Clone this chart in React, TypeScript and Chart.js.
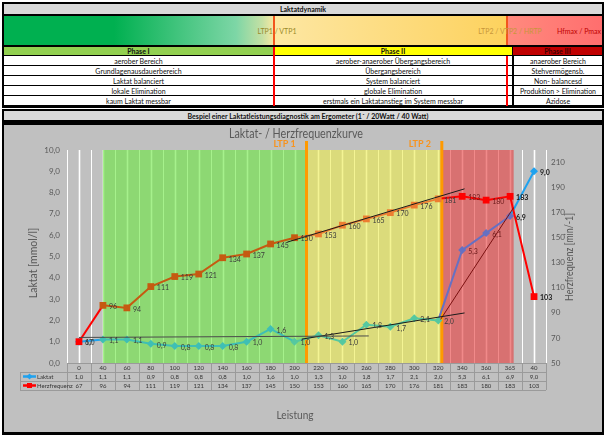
import React, { useEffect, useRef } from "react";
import { Chart, registerables } from "chart.js";

Chart.register(...registerables);

// ---------- data ----------
const categories = ["0", "40", "60", "80", "100", "120", "140", "160", "180", "200", "220", "240", "260", "280", "300", "320", "340", "360", "365", "40"];
const laktat = [1.0, 1.1, 1.1, 0.9, 0.8, 0.8, 0.8, 1.0, 1.6, 1.0, 1.3, 1.0, 1.8, 1.7, 2.1, 2.0, 5.3, 6.1, 6.9, 9.0];
const herzfrequenz = [67, 96, 94, 111, 119, 121, 134, 137, 145, 150, 153, 160, 165, 170, 176, 181, 183, 180, 183, 103];
const laktatTicks = [0, 1, 2, 3, 4, 5, 6, 7, 8, 9, 10];
const hfTicks = [50, 70, 90, 110, 130, 150, 170, 190, 210];

// zones (in category-index units)
const zoneStart = [1, 9.5, 15.15];
const zoneEnd = [9.5, 15.15, 18.15];
const ltpPos = [9.5, 15.15];
const ltpLabels = ["LTP 1", "LTP 2"];

// trend lines (category-index, value)
const trendL1X = [0, 12.1];
const trendL1Y = [1.2, 1.27];
const trendL2X = [9.3, 16.1];
const trendL2Y = [1.12, 2.35];
const trendL3X = [15.1, 18.15];
const trendL3Y = [2.05, 7.3];
const trendHFX = [8.7, 16.1];
const trendHFY = [146.5, 189];

// header texts
const phaseNames = ["Phase I", "Phase II", "Phase III"];
const phase1Rows = ["aerober Bereich", "Grundlagenausdauerbereich", "Laktat balanciert", "lokale Elimination", "kaum Laktat messbar"];
const phase2Rows = ["aerober-anaerober Übergangsbereich", "Übergangsbereich", "System balanciert", "globale Elimination", "erstmals ein Laktatanstieg im System messbar"];
const phase3Rows = ["anaerober Bereich", "Stehvermögensb.", "Non- balancesd", "Produktion > Elimination", "Azidose"];

// ---------- styles ----------
const FONT = 'Lato, "Open Sans", "Noto Sans", sans-serif';
const BLUE = "#1fa2ef";
const TEAL = "#3fbfb4";
const TEAL2 = "#55c8a0";
const SLATE = "#6670c2";
const RED = "#ff0000";
const BROWN = "#c55a11";
const ORANGE = "#ed7d31";

const laktatSeg = (i: number) => (i === 0 || i === 18 ? BLUE : i <= 8 ? TEAL : i <= 14 ? TEAL2 : SLATE);
const laktatPt = (i: number) => (i === 0 || i === 19 ? BLUE : i <= 8 ? TEAL : i <= 15 ? TEAL2 : SLATE);
const hfSeg = (i: number) => (i === 0 || i >= 15 ? RED : i <= 8 ? BROWN : ORANGE);
const hfPt = (i: number) => (i === 0 || i >= 16 ? RED : i <= 9 ? BROWN : ORANGE);
const zoneColors = ["rgba(107,232,64,0.6)", "rgba(236,236,76,0.6)", "rgba(232,60,60,0.6)"];

const fmt1 = (v: number) => v.toFixed(1).replace(".", ",");

const decorPlugin = {
  id: "decor",
  beforeDatasetsDraw(chart: any) {
    const { ctx, chartArea } = chart;
    const { top, bottom } = chartArea;
    const x = chart.scales.x;
    ctx.save();
    for (let k = 0; k <= 40; k++) {
      const px = x.getPixelForValue(-0.5 + k * 0.5);
      ctx.strokeStyle = "#ffffff";
      ctx.lineWidth = k % 2 === 1 ? 1.6 : 1;
      ctx.beginPath();
      ctx.moveTo(Math.round(px) + 0.5, top);
      ctx.lineTo(Math.round(px) + 0.5, bottom);
      ctx.stroke();
    }
    zoneStart.forEach((s, i) => {
      const a = x.getPixelForValue(s);
      const b = x.getPixelForValue(zoneEnd[i]);
      ctx.fillStyle = zoneColors[i];
      ctx.fillRect(a, top, b - a, bottom - top);
    });
    ltpPos.forEach((p) => {
      const px = x.getPixelForValue(p);
      ctx.strokeStyle = "#ff9a00";
      ctx.lineWidth = 3;
      ctx.beginPath();
      ctx.moveTo(px, top - 9);
      ctx.lineTo(px, bottom);
      ctx.stroke();
    });
    ctx.restore();
  },
  afterDatasetsDraw(chart: any) {
    const { ctx } = chart;
    ctx.save();
    ctx.textAlign = "left";
    ctx.textBaseline = "middle";
    [0, 1].forEach((di) => {
      const meta = chart.getDatasetMeta(di);
      meta.data.forEach((pt: any, i: number) => {
        const text = di === 0 ? fmt1(laktat[i]) : String(herzfrequenz[i]);
        const strong = i >= 18;
        let col = "#3a3a3a";
        if (!strong && i >= 16) col = "#6b1a1a";
        if (strong) col = "#1a1a1a";
        ctx.font = `${strong ? "700" : "400"} 7px ${FONT}`;
        ctx.fillStyle = col;
        ctx.fillText(text, pt.x + 6, pt.y + 1.5);
      });
    });
    ctx.restore();
  },
  afterDraw(chart: any) {
    const { ctx, chartArea } = chart;
    const { left, right, bottom } = chartArea;
    const x = chart.scales.x;
    ctx.save();
    ctx.fillStyle = "#595959";
    ctx.textAlign = "center";
    ctx.textBaseline = "middle";
    ctx.font = `400 13px ${FONT}`;
    ctx.fillText("Laktat- / Herzfrequenzkurve", 292, 9, 134);
    ctx.font = `700 9px ${FONT}`;
    ctx.fillStyle = "#f7931e";
    ltpPos.forEach((p, i) => {
      ctx.fillText(ltpLabels[i], x.getPixelForValue(p) - 22, 19);
    });
    ctx.fillStyle = "#595959";
    ctx.font = `400 10.5px ${FONT}`;
    ctx.save();
    ctx.translate(30, 138);
    ctx.rotate(-Math.PI / 2);
    ctx.fillText("Laktat [mmol/l]", 0, 0, 72);
    ctx.restore();
    ctx.save();
    ctx.translate(566, 132);
    ctx.rotate(-Math.PI / 2);
    ctx.fillText("Herzfrequenz [min/-1]", 0, 0, 88);
    ctx.restore();
    ctx.font = `400 12px ${FONT}`;
    ctx.fillText("Leistung", 291, 290, 37);

    // data table
    const rowH = 9;
    const legL = 16;
    ctx.strokeStyle = "#9a9a9a";
    ctx.lineWidth = 1;
    for (let r = 0; r <= 3; r++) {
      const y = Math.round(bottom + r * rowH) + 0.5;
      ctx.beginPath();
      ctx.moveTo(r === 0 ? left : legL, y);
      ctx.lineTo(right, y);
      ctx.stroke();
    }
    for (let i = 0; i <= categories.length; i++) {
      const px = Math.round(x.getPixelForValue(i - 0.5)) + 0.5;
      ctx.beginPath();
      ctx.moveTo(px, bottom);
      ctx.lineTo(px, bottom + 3 * rowH);
      ctx.stroke();
    }
    ctx.beginPath();
    ctx.moveTo(legL + 0.5, bottom + rowH);
    ctx.lineTo(legL + 0.5, bottom + 3 * rowH);
    ctx.stroke();

    ctx.fillStyle = "#333333";
    ctx.font = `400 6px ${FONT}`;
    ctx.textAlign = "center";
    categories.forEach((c, i) => {
      const cx = x.getPixelForValue(i);
      ctx.fillText(c, cx, bottom + rowH * 0.5 + 0.5);
      ctx.fillText(fmt1(laktat[i]), cx, bottom + rowH * 1.5 + 0.5);
      ctx.fillText(String(herzfrequenz[i]), cx, bottom + rowH * 2.5 + 0.5);
    });
    const keys = [
      { label: "Laktat", color: BLUE, shape: "diamond" },
      { label: "Herzfrequenz", color: RED, shape: "square" },
    ];
    keys.forEach((k, r) => {
      const cy = bottom + rowH * (1.5 + r);
      ctx.strokeStyle = k.color;
      ctx.lineWidth = 2.5;
      ctx.beginPath();
      ctx.moveTo(legL + 3, cy);
      ctx.lineTo(legL + 16, cy);
      ctx.stroke();
      ctx.fillStyle = k.color;
      const mx = legL + 9.5;
      if (k.shape === "diamond") {
        ctx.beginPath();
        ctx.moveTo(mx, cy - 3);
        ctx.lineTo(mx + 3, cy);
        ctx.lineTo(mx, cy + 3);
        ctx.lineTo(mx - 3, cy);
        ctx.closePath();
        ctx.fill();
      } else {
        ctx.fillRect(mx - 2.5, cy - 2.5, 5, 5);
      }
      ctx.fillStyle = "#333333";
      ctx.textAlign = "left";
      ctx.font = `400 6px ${FONT}`;
      ctx.fillText(k.label, legL + 17, cy + 0.5);
    });
    ctx.restore();
  },
};

const box = (left: number, top: number, width: number, height: number, extra: any = {}) => ({
  position: "absolute" as const,
  left,
  top,
  width,
  height,
  boxSizing: "border-box" as const,
  ...extra,
});

const cellText = {
  display: "flex",
  alignItems: "center",
  justifyContent: "center",
  fontFamily: FONT,
  fontSize: 7,
  lineHeight: "8px",
  whiteSpace: "nowrap" as const,
  overflow: "visible",
  color: "#111",
};

export default function App() {
  const ref = useRef<HTMLCanvasElement>(null);

  useEffect(() => {
    const chart = new Chart(ref.current as HTMLCanvasElement, {
      type: "line",
      data: {
        datasets: [
          {
            label: "Laktat",
            data: laktat.map((v, i) => ({ x: i, y: v })),
            yAxisID: "yL",
            borderWidth: 2,
            borderColor: BLUE,
            segment: { borderColor: (c: any) => laktatSeg(c.p0DataIndex) },
            pointStyle: "rectRot",
            pointRadius: 4,
            pointBorderWidth: 0,
            pointBackgroundColor: laktat.map((_, i) => laktatPt(i)),
            pointBorderColor: laktat.map((_, i) => laktatPt(i)),
            order: 1,
          },
          {
            label: "Herzfrequenz",
            data: herzfrequenz.map((v, i) => ({ x: i, y: v })),
            yAxisID: "yR",
            borderWidth: 2,
            borderColor: RED,
            segment: { borderColor: (c: any) => hfSeg(c.p0DataIndex) },
            pointStyle: "rect",
            pointRadius: 4.8,
            pointBorderWidth: 0,
            pointBackgroundColor: herzfrequenz.map((_, i) => hfPt(i)),
            pointBorderColor: herzfrequenz.map((_, i) => hfPt(i)),
            order: 0,
          },
          {
            label: "t1",
            data: trendL1X.map((v, i) => ({ x: v, y: trendL1Y[i] })),
            yAxisID: "yL",
            borderColor: "#4a4a4a",
            borderWidth: 1,
            pointRadius: 0,
            order: -1,
          },
          {
            label: "t2",
            data: trendL2X.map((v, i) => ({ x: v, y: trendL2Y[i] })),
            yAxisID: "yL",
            borderColor: "#1a1a1a",
            borderWidth: 1,
            pointRadius: 0,
            order: -1,
          },
          {
            label: "t3",
            data: trendL3X.map((v, i) => ({ x: v, y: trendL3Y[i] })),
            yAxisID: "yL",
            borderColor: "#7a1010",
            borderWidth: 1,
            pointRadius: 0,
            order: -1,
          },
          {
            label: "t4",
            data: trendHFX.map((v, i) => ({ x: v, y: trendHFY[i] })),
            yAxisID: "yR",
            borderColor: "#1a1a1a",
            borderWidth: 1,
            pointRadius: 0,
            order: -1,
          },
        ],
      },
      options: {
        responsive: false,
        animation: false,
        devicePixelRatio: 1,
        layout: { padding: { left: 0, right: 0, top: 25, bottom: 69 } },
        plugins: { legend: { display: false }, tooltip: { enabled: false }, title: { display: false } },
        scales: {
          x: { type: "linear", min: -0.5, max: 19.5, display: false },
          yL: {
            type: "linear",
            position: "left",
            min: 0,
            max: 10,
            grid: { display: false, drawTicks: false },
            border: { display: false },
            ticks: {
              padding: 7,
              color: "#595959",
              font: { family: FONT, size: 8 },
              callback: (v: any) => fmt1(Number(v)),
            },
            afterBuildTicks: (s: any) => {
              s.ticks = laktatTicks.map((v) => ({ value: v }));
            },
            afterFit: (s: any) => {
              s.width = 63;
            },
          },
          yR: {
            type: "linear",
            position: "right",
            min: 50,
            max: 220,
            grid: { display: false, drawTicks: false },
            border: { display: false },
            ticks: {
              padding: 5,
              color: "#595959",
              font: { family: FONT, size: 8 },
            },
            afterBuildTicks: (s: any) => {
              s.ticks = hfTicks.map((v) => ({ value: v }));
            },
            afterFit: (s: any) => {
              s.width = 56;
            },
          },
        },
      } as any,
      plugins: [decorPlugin],
    });
    return () => chart.destroy();
  }, []);

  const gradient =
    "linear-gradient(to right, #00b050 0px, #00b050 110px, #7dd6a6 232px, #c4e0a4 258px, #fde9a2 271px, #fde49a 300px, #fdd25e 502px, #ff8a7e 503px, #ff6e6e 598px)";

  const rowTops = [56, 66, 76, 86, 96];

  return (
    <div style={{ position: "absolute", left: 0, top: 0, width: 605, height: 438, background: "#ffffff", overflow: "hidden" }}>
      <div style={box(2, 2, 602, 106, { background: "#000" })} />
      <div style={box(4, 4, 598, 10, { background: "#d9d9d9", ...cellText, fontWeight: 700 })}>Laktatdynamik</div>
      <div style={box(4, 16, 598, 29, { background: gradient })} />
      <div style={box(273, 16, 2, 29, { background: "#f2561d" })} />
      <div style={box(506, 16, 2, 29, { background: "#f2561d" })} />
      <div style={box(256, 26, 42, 10, { ...cellText, color: "#9a8a2a" })}>LTP1 / VTP1</div>
      <div style={box(476, 26, 68, 10, { ...cellText, color: "#c8963a" })}>LTP2 / VTP2 / HRTP</div>
      <div style={box(556, 26, 46, 10, { ...cellText, color: "#c00000" })}>Hfmax / Pmax</div>

      <div style={box(4, 47, 269, 8, { background: "#92d050", ...cellText, fontWeight: 700 })}>{phaseNames[0]}</div>
      <div style={box(274, 47, 238, 8, { background: "#ffff00", ...cellText, fontWeight: 700 })}>{phaseNames[1]}</div>
      <div style={box(513, 47, 89, 8, { background: "#c00000", ...cellText, fontWeight: 700, color: "#3d0000" })}>{phaseNames[2]}</div>

      {rowTops.map((t, r) => (
        <React.Fragment key={r}>
          <div style={box(4, t, 269, 9, { background: "#fff", ...cellText })}>{phase1Rows[r]}</div>
          <div style={box(274, t, 238, 9, { background: "#fff", ...cellText })}>{phase2Rows[r]}</div>
          <div style={box(514, t, 88, 9, { background: "#fff", ...cellText })}>{phase3Rows[r]}</div>
        </React.Fragment>
      ))}
      <div style={box(273, 47, 2, 59, { background: "#ff0000" })} />
      <div style={box(506, 56, 2, 50, { background: "#ff0000" })} />

      <div style={box(2, 109, 602, 13, { background: "#000" })} />
      <div style={box(4, 111, 598, 9, { background: "#d9d9d9", ...cellText, fontWeight: 700 })}>
        <span style={{ marginLeft: 10 }}>Bespiel einer Laktatleistungsdiagnostik am Ergometer (1´ / 20Watt / 40 Watt)</span>
      </div>

      <div style={box(2, 122, 602, 313, { background: "#000" })} />
      <div style={box(4, 125, 598, 307, { background: "#c0c0c0" })}>
        <canvas ref={ref} width={598} height={307} style={{ display: "block", width: 598, height: 307 }} />
      </div>
    </div>
  );
}
